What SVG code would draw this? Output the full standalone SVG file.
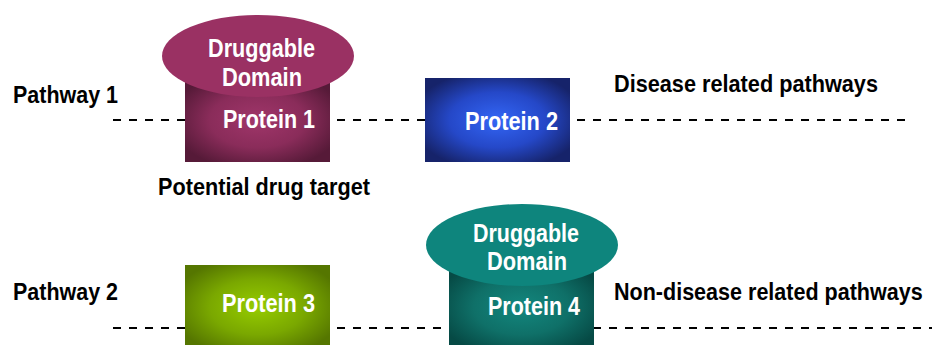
<svg xmlns="http://www.w3.org/2000/svg" width="936" height="345" viewBox="0 0 936 345">
<style>
.lbl{font-family:"Liberation Sans",Arial,sans-serif;font-size:24px;font-weight:bold;fill:#000}
.wt{font-family:"Liberation Sans",Arial,sans-serif;font-size:26px;font-weight:bold;fill:#fff}
.dash{stroke:#000;stroke-width:2;stroke-dasharray:8 8;fill:none}
</style>
<defs>
<radialGradient id="g1" cx="0.5" cy="0.5" r="0.6"><stop offset="0" stop-color="#a0366a"/><stop offset="0.55" stop-color="#8a2c5a"/><stop offset="1" stop-color="#561a38"/></radialGradient>
<radialGradient id="g2" cx="0.5" cy="0.5" r="0.6"><stop offset="0" stop-color="#3366f5"/><stop offset="0.55" stop-color="#2548c8"/><stop offset="1" stop-color="#16236a"/></radialGradient>
<radialGradient id="g3" cx="0.5" cy="0.5" r="0.6"><stop offset="0" stop-color="#96cc00"/><stop offset="0.55" stop-color="#7aa800"/><stop offset="1" stop-color="#557600"/></radialGradient>
<radialGradient id="g4" cx="0.5" cy="0.5" r="0.6"><stop offset="0" stop-color="#13877e"/><stop offset="0.55" stop-color="#0f7068"/><stop offset="1" stop-color="#064a45"/></radialGradient>
</defs>
<g id="connectors">
<line class="dash" x1="113" y1="120" x2="905" y2="120"/>
<line class="dash" x1="113" y1="328" x2="932" y2="328"/>
</g>
<g id="labels">
<text class="lbl" x="13" y="103" textLength="105" lengthAdjust="spacingAndGlyphs">Pathway 1</text>
<text class="lbl" x="13" y="300" textLength="105" lengthAdjust="spacingAndGlyphs">Pathway 2</text>
<text class="lbl" x="614" y="92" textLength="264" lengthAdjust="spacingAndGlyphs">Disease related pathways</text>
<text class="lbl" transform="translate(614,300) scale(0.9,1)" x="0" y="0" textLength="343" lengthAdjust="spacingAndGlyphs">Non-disease related pathways</text>
<text class="lbl" x="158" y="195" textLength="212" lengthAdjust="spacingAndGlyphs">Potential drug target</text>
</g>
<g id="protein1">
<rect x="185" y="78" width="145" height="84" fill="url(#g1)"/>
<ellipse cx="258" cy="56" rx="96" ry="41" fill="#9a3163"/>
<text class="wt" x="208" y="57" textLength="107" lengthAdjust="spacingAndGlyphs">Druggable</text>
<text class="wt" x="222" y="86" textLength="80" lengthAdjust="spacingAndGlyphs">Domain</text>
<text class="wt" x="223" y="128" textLength="92" lengthAdjust="spacingAndGlyphs">Protein 1</text>
</g>
<g id="protein2">
<rect x="425" y="78" width="145" height="84" fill="url(#g2)"/>
<text class="wt" x="465" y="130" textLength="93" lengthAdjust="spacingAndGlyphs">Protein 2</text>
</g>
<g id="protein3">
<rect x="185" y="265" width="145" height="84" fill="url(#g3)"/>
<text class="wt" x="222" y="312" textLength="93" lengthAdjust="spacingAndGlyphs">Protein 3</text>
</g>
<g id="protein4">
<rect x="449" y="265" width="145" height="84" fill="url(#g4)"/>
<ellipse cx="522" cy="245" rx="96" ry="41" fill="#0e857d"/>
<text class="wt" x="473" y="242" textLength="106" lengthAdjust="spacingAndGlyphs">Druggable</text>
<text class="wt" x="487" y="270" textLength="80" lengthAdjust="spacingAndGlyphs">Domain</text>
<text class="wt" x="488" y="315" textLength="92" lengthAdjust="spacingAndGlyphs">Protein 4</text>
</g>
</svg>
